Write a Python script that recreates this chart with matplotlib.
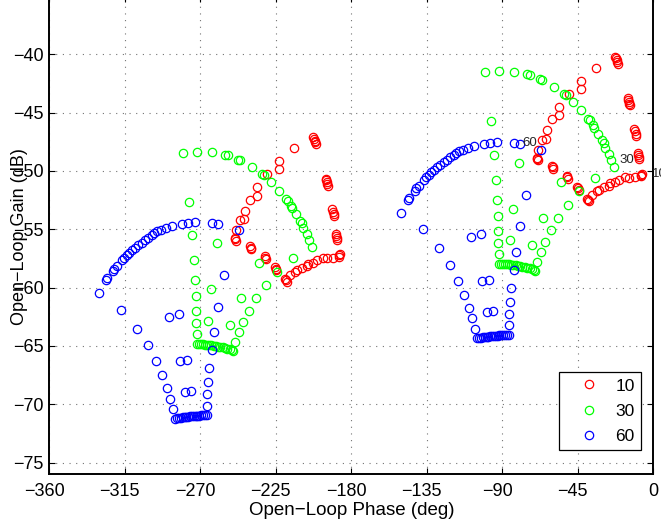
import matplotlib
matplotlib.use('Agg')
import matplotlib.pyplot as plt
from matplotlib.transforms import ScaledTranslation

plt.rcParams['font.family'] = ['Liberation Sans', 'DejaVu Sans']

# open-loop phase (deg) / gain (dB), left and right group
blue_ph_a = [-330.6, -326.4, -325.4, -322.2, -321.3, -319.8, -316.5, -315.3, -313.5, -312.3,
             -310.5, -308.9, -307.0, -304.9, -303.0, -301.0, -299.0, -297.4, -295.6, -293.4,
             -290.5, -287.1, -280.7, -277.2, -273.2, -263.2, -259.6, -246.9, -255.7, -259.6,
             -261.7, -263.2, -264.6, -265.2, -265.8, -266.2, -266.2, -267.3, -268.4, -269.5,
             -270.6, -271.7, -272.8, -273.9, -275.0, -276.1, -277.2, -278.3, -279.4, -280.5,
             -281.6, -282.7, -283.9, -285.1, -286.5, -288.1, -290.0, -293.0, -296.6, -301.4,
             -307.9, -317.4, -288.5, -282.7, -282.1, -278.1, -279.1, -275.7]
blue_db_a = [-60.49, -59.37, -59.20, -58.57, -58.37, -58.14, -57.63, -57.43, -57.20, -57.00,
             -56.77, -56.57, -56.34, -56.14, -55.93, -55.71, -55.50, -55.33, -55.19, -55.07,
             -54.93, -54.76, -54.56, -54.47, -54.42, -54.47, -54.56, -55.10, -58.94, -61.64,
             -63.79, -65.39, -66.89, -68.09, -69.12, -70.12, -70.96, -70.95, -70.95, -70.96,
             -70.97, -70.98, -70.99, -71.00, -71.02, -71.04, -71.06, -71.08, -71.10, -71.12,
             -71.15, -71.18, -71.21, -71.24, -70.41, -69.52, -68.61, -67.52, -66.31, -64.96,
             -63.53, -61.90, -62.53, -62.30, -66.31, -66.22, -68.95, -68.89]
blue_ph_b = [-150.6, -146.4, -145.4, -142.2, -141.3, -139.8, -136.5, -135.3, -133.5, -132.3,
             -130.5, -128.9, -127.0, -124.9, -123.0, -121.0, -119.0, -117.4, -115.6, -113.4,
             -110.5, -107.1, -100.7, -97.2, -93.2, -83.2, -79.6, -66.9, -75.7, -79.6,
             -81.7, -83.2, -84.6, -85.2, -85.8, -86.2, -86.2, -87.3, -88.4, -89.5,
             -90.6, -91.7, -92.8, -93.9, -95.0, -96.1, -97.2, -98.3, -99.4, -100.5,
             -101.6, -102.7, -103.9, -105.1, -106.5, -108.1, -110.0, -113.0, -116.6, -121.4,
             -127.9, -137.4, -108.5, -102.7, -102.1, -98.1, -99.1, -95.7]
blue_db_b = [-53.61, -52.49, -52.32, -51.69, -51.49, -51.26, -50.75, -50.55, -50.32, -50.12,
             -49.89, -49.69, -49.46, -49.26, -49.05, -48.83, -48.62, -48.45, -48.31, -48.19,
             -48.05, -47.88, -47.68, -47.59, -47.54, -47.59, -47.68, -48.22, -52.06, -54.76,
             -56.91, -58.51, -60.01, -61.21, -62.24, -63.24, -64.08, -64.07, -64.07, -64.08,
             -64.09, -64.10, -64.11, -64.12, -64.14, -64.16, -64.18, -64.20, -64.22, -64.24,
             -64.27, -64.30, -64.33, -64.36, -63.53, -62.64, -61.73, -60.64, -59.43, -58.08,
             -56.65, -55.02, -55.65, -55.42, -59.43, -59.34, -62.07, -62.01]

green_ph_a = [-280.5, -271.8, -263.0, -255.3, -253.7, -247.4, -246.4, -239.0, -233.4, -232.0,
              -228.1, -222.9, -218.9, -217.9, -216.0, -215.4, -213.0, -210.6, -209.6, -208.6,
              -206.6, -205.1, -203.3, -276.6, -274.8, -273.8, -273.2, -272.8, -272.6, -272.6,
              -272.2, -272.2, -271.0, -269.8, -268.5, -267.2, -266.0, -264.7, -263.4, -262.0,
              -260.7, -259.3, -258.0, -256.6, -255.2, -253.8, -252.4, -251.2, -250.3, -260.2,
              -263.8, -265.6, -252.1, -249.3, -246.9, -244.4, -240.8, -245.9, -236.6, -231.0,
              -234.8, -224.5, -215.0]
green_db_a = [-48.45, -48.34, -48.40, -48.62, -48.68, -49.03, -49.11, -49.69, -50.26, -50.34,
              -50.98, -51.69, -52.41, -52.55, -52.98, -53.18, -53.70, -54.27, -54.47, -54.90,
              -55.42, -55.91, -56.51, -52.64, -55.48, -57.63, -59.35, -60.72, -62.01, -63.04,
              -63.96, -64.82, -64.83, -64.84, -64.86, -64.88, -64.90, -64.92, -64.95, -64.98,
              -65.01, -65.05, -65.09, -65.13, -65.18, -65.24, -65.30, -65.37, -65.45, -56.19,
              -60.15, -62.84, -63.23, -64.65, -63.80, -62.96, -61.97, -60.90, -60.92, -59.78,
              -57.86, -58.63, -57.48]
green_ph_b = [-100.5, -91.8, -83.0, -75.3, -73.7, -67.4, -66.4, -59.0, -53.4, -52.0,
              -48.1, -42.9, -38.9, -37.9, -36.0, -35.4, -33.0, -30.6, -29.6, -28.6,
              -26.6, -25.1, -23.3, -96.6, -94.8, -93.8, -93.2, -92.8, -92.6, -92.6,
              -92.2, -92.2, -91.0, -89.8, -88.5, -87.2, -86.0, -84.7, -83.4, -82.0,
              -80.7, -79.3, -78.0, -76.6, -75.2, -73.8, -72.4, -71.2, -70.3, -80.2,
              -83.8, -85.6, -72.1, -69.3, -66.9, -64.4, -60.8, -65.9, -56.6, -51.0,
              -54.8, -44.5, -35.0]
green_db_b = [-41.57, -41.46, -41.52, -41.74, -41.80, -42.15, -42.23, -42.81, -43.38, -43.46,
              -44.10, -44.81, -45.53, -45.67, -46.10, -46.30, -46.82, -47.39, -47.59, -48.02,
              -48.54, -49.03, -49.63, -45.76, -48.60, -50.75, -52.47, -53.84, -55.13, -56.16,
              -57.08, -57.94, -57.95, -57.96, -57.98, -58.00, -58.02, -58.04, -58.07, -58.10,
              -58.13, -58.17, -58.21, -58.25, -58.30, -58.36, -58.42, -58.49, -58.57, -49.31,
              -53.27, -55.96, -56.35, -57.77, -56.92, -56.08, -55.09, -54.02, -54.04, -52.90,
              -50.98, -51.75, -50.60]

red_ph_a = [-202.7, -202.3, -201.8, -201.4, -201.0, -195.3, -195.0, -194.6, -194.3, -194.1,
            -191.3, -191.0, -190.6, -190.3, -189.1, -188.9, -188.6, -188.4, -187.6, -187.2,
            -186.9, -191.1, -194.7, -196.7, -200.3, -202.7, -205.7, -206.6, -209.6, -212.6,
            -213.6, -216.6, -219.3, -218.9, -218.5, -225.2, -224.9, -224.6, -231.7, -231.4,
            -231.1, -240.3, -240.0, -239.7, -249.6, -249.3, -249.0, -248.7, -246.4, -243.8,
            -243.4, -240.4, -236.0, -236.0, -230.5, -223.1, -223.1, -214.2]
red_db_a = [-47.10, -47.25, -47.40, -47.55, -47.70, -50.66, -50.81, -50.96, -51.12, -51.27,
            -53.30, -53.50, -53.70, -53.90, -55.37, -55.55, -55.72, -55.90, -57.35, -57.25,
            -57.15, -57.43, -57.49, -57.43, -57.65, -57.86, -57.94, -58.14, -58.29, -58.49,
            -58.63, -58.92, -59.25, -59.37, -59.50, -58.25, -58.37, -58.50, -57.30, -57.43,
            -57.56, -56.45, -56.57, -56.70, -55.75, -55.85, -55.97, -55.07, -54.21, -54.12,
            -53.41, -52.47, -52.12, -51.41, -50.26, -49.17, -49.83, -48.06]
red_ph_b = [-22.7, -22.3, -21.8, -21.4, -21.0, -15.3, -15.0, -14.6, -14.3, -14.1,
            -11.3, -11.0, -10.6, -10.3, -9.1, -8.9, -8.6, -8.4, -7.6, -7.2,
            -6.9, -11.1, -14.7, -16.7, -20.3, -22.7, -25.7, -26.6, -29.6, -32.6,
            -33.6, -36.6, -39.3, -38.9, -38.5, -45.2, -44.9, -44.6, -51.7, -51.4,
            -51.1, -60.3, -60.0, -59.7, -69.6, -69.3, -69.0, -68.7, -66.4, -63.8,
            -63.4, -60.4, -56.0, -56.0, -50.5, -43.1, -43.1, -34.2]
red_db_b = [-40.22, -40.37, -40.52, -40.67, -40.82, -43.78, -43.93, -44.08, -44.24, -44.39,
            -46.42, -46.62, -46.82, -47.02, -48.49, -48.67, -48.84, -49.02, -50.47, -50.37,
            -50.27, -50.55, -50.61, -50.55, -50.77, -50.98, -51.06, -51.26, -51.41, -51.61,
            -51.75, -52.04, -52.37, -52.49, -52.62, -51.37, -51.49, -51.62, -50.42, -50.55,
            -50.68, -49.57, -49.69, -49.82, -48.87, -48.97, -49.09, -48.19, -47.33, -47.24,
            -46.53, -45.59, -45.24, -44.53, -43.38, -42.29, -42.95, -41.18]

series_names = ['10', '30', '60']
# curve-end labels next to the right group
label_ph = [-1.0, -19.9, -77.9]
label_db = [-50.26, -49.11, -47.63]

fig = plt.figure(figsize=(6.61, 5.29), dpi=100)
ax = fig.add_axes([0.0746, 0.1034, 0.9138, 0.9045])

ax.plot(red_ph_a + red_ph_b, red_db_a + red_db_b, 'o', ms=6, mfc='none', mec='r', mew=0.9,
        label=series_names[0])
ax.plot(green_ph_a + green_ph_b, green_db_a + green_db_b, 'o', ms=6, mfc='none', mec=(0, 1, 0),
        mew=0.9, label=series_names[1])
ax.plot(blue_ph_a + blue_ph_b, blue_db_a + blue_db_b, 'o', ms=6, mfc='none', mec='b', mew=0.9,
        label=series_names[2])

for i in range(3):
    ax.text(label_ph[i], label_db[i], series_names[i], fontsize=9.5, color='#262626',
            ha='left', va='center', clip_on=False)

ax.set_xlim(-360, 0)
ax.set_ylim(-76, -35)
ax.set_xticks(range(-360, 1, 45))
ax.set_yticks(range(-75, -39, 5))
ax.tick_params(direction='in', top=True, right=True, length=4, width=0.8, labelsize=13)
ax.tick_params(axis='x', pad=6)
ax.tick_params(axis='y', pad=4)
for s in ax.spines.values():
    s.set_linewidth(1.4)
ax.grid(True, color='0.45', linestyle=(0, (1, 5)), linewidth=0.8)

# negative x labels sit with the digits centred on the tick, minus hanging left
fig.canvas.draw()
shift = ScaledTranslation(-5 / 100, 0, fig.dpi_scale_trans)
for lab in ax.get_xticklabels():
    if lab.get_text().startswith('\u2212'):
        lab.set_transform(lab.get_transform() + shift)

ax.set_xlabel('Open\u2212Loop Phase (deg)', fontsize=13.5, va='top')
ax.xaxis.set_label_coords(0.5, -0.058)
ax.set_ylabel('Open\u2212Loop Gain (dB)', fontsize=13)
ax.yaxis.set_label_coords(-0.036, 0.497)

leg = ax.legend(loc='upper left', bbox_to_anchor=(559 / 661, 1 - 372.3 / 529),
                bbox_transform=fig.transFigure, borderaxespad=0, fontsize=12.5,
                fancybox=False, framealpha=1, edgecolor='k', borderpad=0.35,
                handlelength=2.7, handletextpad=0.2, labelspacing=0.58)
leg.get_frame().set_linewidth(0.9)

fig.savefig('out.png', dpi=100)
